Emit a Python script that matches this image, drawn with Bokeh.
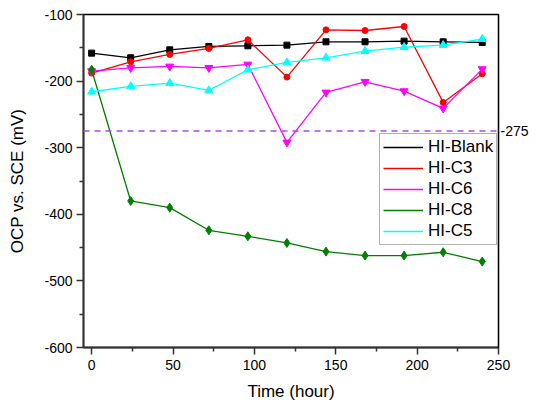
from bokeh.plotting import figure
from bokeh.models import LinearAxis, FixedTicker, Legend, LegendItem, Span, Range1d
from bokeh.embed import file_html
from bokeh.resources import INLINE

time_h = [0, 24, 48, 72, 96, 120, 144, 168, 192, 216, 240]
hi_blank = [-158, -165, -153, -148, -147, -146, -141, -141, -140, -141, -142]
hi_c3 = [-188, -171, -160, -151, -138, -194, -123, -124, -118, -232, -189]
hi_c6 = [-185, -180, -178, -180, -175, -292, -217, -201, -215, -241, -182]
hi_c8 = [-183, -380, -390, -424, -433, -443, -456, -462, -462, -457, -471]
hi_c5 = [-216, -208, -203, -214, -183, -172, -165, -155, -149, -146, -137]
ref_level = -275
x_ticks = [0, 50, 100, 150, 200, 250]
y_ticks = [-600, -500, -400, -300, -200, -100]

FONT = "Liberation Sans"

p = figure(frame_width=415, frame_height=333, output_backend="svg", toolbar_location=None,
           x_range=Range1d(-5, 250), y_range=Range1d(-600, -100),
           min_border_left=83, min_border_right=30, min_border_top=14, min_border_bottom=50)
p.background_fill_color = "white"
p.border_fill_color = "white"
p.grid.visible = False
p.outline_line_color = "black"
p.outline_line_width = 1.3

for ax in (p.xaxis[0], p.yaxis[0]):
    ax.axis_line_color = "#333333"
    ax.axis_line_width = 2
    ax.major_tick_line_color = "#333333"
    ax.minor_tick_line_color = "#333333"
    ax.major_tick_line_width = 1.5
    ax.minor_tick_line_width = 1.5
    ax.major_tick_out = 7
    ax.major_tick_in = 0
    ax.minor_tick_out = 4
    ax.minor_tick_in = 0
    ax.major_label_text_font = FONT
    ax.major_label_text_font_size = "14px"
    ax.major_label_text_color = "black"
    ax.axis_label_text_font = FONT
    ax.axis_label_text_font_size = "17px"
    ax.axis_label_text_font_style = "normal"
    ax.axis_label_text_color = "black"

p.xaxis.ticker = FixedTicker(ticks=x_ticks, minor_ticks=[25, 75, 125, 175, 225])
p.yaxis.ticker = FixedTicker(ticks=y_ticks, minor_ticks=[-550, -450, -350, -250, -150])
p.yaxis.major_label_overrides = {t: str(t) for t in y_ticks}
p.xaxis.axis_label = "Time (hour)"
p.yaxis.axis_label = "OCP vs. SCE (mV)"
p.xaxis.major_label_standoff = 5
p.yaxis.major_label_standoff = 4
p.xaxis.axis_label_standoff = 9
p.yaxis.axis_label_standoff = 14

right_ax = LinearAxis(ticker=FixedTicker(ticks=[ref_level]))
right_ax.major_label_overrides = {ref_level: str(ref_level)}
right_ax.axis_line_color = "black"
right_ax.axis_line_width = 1.3
right_ax.major_tick_line_color = None
right_ax.minor_tick_line_color = None
right_ax.major_tick_out = 0
right_ax.major_tick_in = 0
right_ax.minor_tick_out = 0
right_ax.minor_tick_in = 0
right_ax.major_label_standoff = 2
right_ax.major_label_text_font = FONT
right_ax.major_label_text_font_size = "14px"
right_ax.major_label_text_color = "black"
p.add_layout(right_ax, "right")

p.add_layout(Span(location=ref_level, dimension="width", line_color="#B04AE0",
                  line_width=1.5, line_dash="6 5"))

series = [
    ("HI-Blank", hi_blank, "black", "square", 6),
    ("HI-C3", hi_c3, "red", "circle", 6),
    ("HI-C6", hi_c6, "magenta", "inverted_triangle", 8),
    ("HI-C8", hi_c8, "green", "diamond", 9),
    ("HI-C5", hi_c5, "cyan", "triangle", 8),
]
items = []
for name, vals, col, mk, sz in series:
    r = p.line(time_h, vals, line_color=col, line_width=1.3)
    p.scatter(time_h, vals, marker=mk, size=sz, fill_color=col, line_color=col)
    items.append(LegendItem(label=name, renderers=[r]))

legend = Legend(items=items, location=(296, 102))
legend.label_text_font = FONT
legend.label_text_font_size = "17px"
legend.label_text_color = "black"
legend.glyph_width = 40
legend.glyph_height = 20
legend.label_height = 20
legend.label_standoff = 5
legend.spacing = 1
legend.padding = 3
legend.margin = 0
legend.border_line_color = "#666666"
legend.border_line_width = 1
legend.background_fill_alpha = 1
p.add_layout(legend, "center")

open("out.html", "w").write(file_html(p, INLINE))
